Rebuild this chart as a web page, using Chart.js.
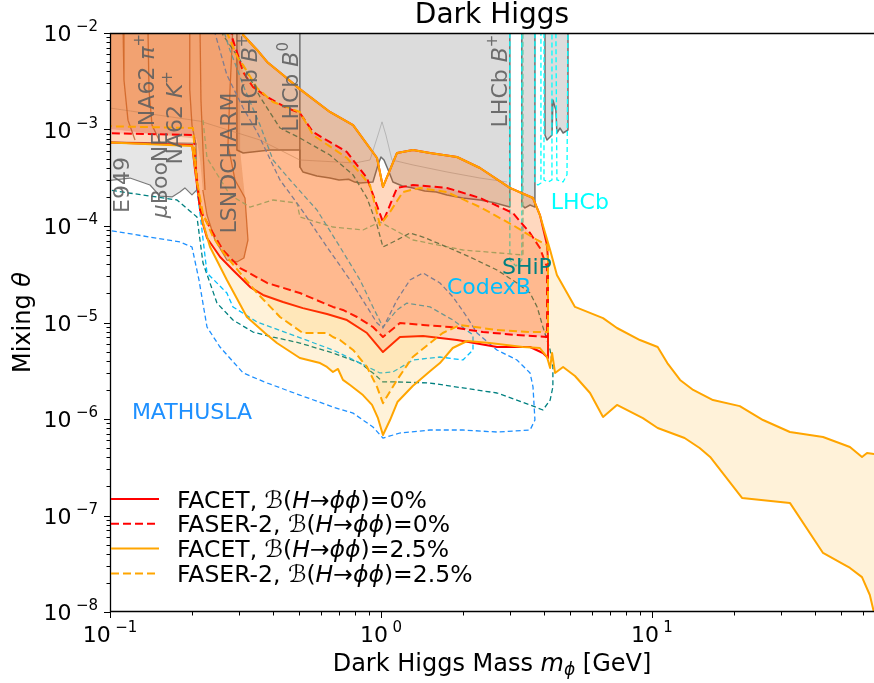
<!DOCTYPE html>
<html lang="en">
<head>
<meta charset="utf-8">
<title>Dark Higgs</title>
<script src="https://cdn.jsdelivr.net/npm/chart.js@4.4.1/dist/chart.umd.min.js"></script>
<style>
  html, body { margin: 0; padding: 0; background: #ffffff; overflow: hidden; }
  canvas { display: block; }
</style>
</head>
<body>
<canvas id="darkHiggsChart" width="874" height="683"></canvas>
<script>
/* =============================================================================
   DARK HIGGS — FACET / FASER-2 reach on a log-log plane
   ============================================================================= */

const FONT = "'DejaVu Sans', 'Liberation Sans', sans-serif";

/* ---- axes ---- */
const xRange = [0.1, 66];
const yRange = [1e-8, 1e-2];
const xTickValues = [0.1, 1, 10];
const xTickExps   = ['\u22121', '0', '1'];
const yTickValues = [1e-2, 1e-3, 1e-4, 1e-5, 1e-6, 1e-7, 1e-8];
const yTickExps   = ['\u22122', '\u22123', '\u22124', '\u22125', '\u22126', '\u22127', '\u22128'];

/* ---- FACET upper edge (shared by both branchings), [mass GeV, theta] ---- */
const facetUpper = [
  [0.30, 1.5e-2], [0.310, 9.53e-3], [0.349, 6.67e-3], [0.380, 5.01e-3], [0.435, 3.67e-3],
  [0.502, 2.62e-3], [0.648, 1.52e-3], [0.789, 1.11e-3], [0.967, 5.07e-4], [1.017, 2.54e-4],
  [1.146, 5.71e-4], [1.313, 6.13e-4], [1.517, 5.71e-4], [1.908, 5.19e-4], [2.32, 3.99e-4],
  [2.99, 2.48e-4], [3.64, 1.95e-4], [3.86, 1.30e-4]
];
const facet25Tail = [
  [4.21, 5.64e-5], [4.46, 3.11e-5], [5.20, 1.45e-5], [6.60, 1.11e-5], [7.43, 8.77e-6],
  [9.03, 6.58e-6], [10.5, 5.57e-6], [11.4, 3.80e-6], [12.7, 2.54e-6], [14.2, 2.00e-6],
  [16.8, 1.57e-6], [21.1, 1.36e-6], [25.7, 9.76e-7], [32.3, 7.33e-7], [42.8, 6.51e-7],
  [53.8, 5.13e-7], [59.6, 4.04e-7], [62.2, 4.44e-7], [66.0, 4.34e-7], [70, 4.3e-7]
];
const facet25Lower = [
  [70, 8e-9], [66.5, 9e-9], [63.7, 1.50e-8], [59.6, 2.30e-8], [53.8, 2.86e-8], [42.8, 4.09e-8],
  [32.3, 1.35e-7], [21.5, 1.52e-7], [16.4, 4.04e-7], [15.0, 5.01e-7], [13.2, 6.35e-7],
  [10.5, 8.06e-7], [9.26, 1.02e-6], [7.43, 1.40e-6], [6.60, 1.05e-6], [5.91, 1.86e-6],
  [5.20, 2.79e-6], [4.70, 3.46e-6], [4.39, 3.00e-6], [4.28, 4.83e-6], [4.21, 3.38e-6],
  [4.10, 4.39e-6], [3.86, 5.44e-6], [3.34, 5.57e-6], [2.52, 6.13e-6], [2.08, 6.43e-6],
  [1.84, 5.44e-6], [1.65, 3.80e-6], [1.52, 3.14e-6], [1.31, 2.20e-6], [1.15, 1.50e-6],
  [1.08, 9.76e-7], [1.017, 6.83e-7], [0.975, 1.02e-6], [0.927, 1.40e-6], [0.858, 1.77e-6],
  [0.769, 2.25e-6], [0.724, 2.54e-6], [0.694, 3.30e-6], [0.665, 3.07e-6], [0.632, 3.46e-6],
  [0.596, 3.80e-6], [0.502, 4.29e-6], [0.413, 6.13e-6], [0.373, 7.78e-6], [0.320, 1.14e-5],
  [0.270, 2.76e-5], [0.234, 6.06e-5], [0.220, 1.10e-4], [0.215, 1.65e-4], [0.208, 3.38e-4],
  [0.201, 6.75e-4], [0.09, 7.42e-4]
];
const facet0Lower = [
  [4.10, 6.35e-5], [4.135, 4.44e-5], [4.135, 4.29e-6], [3.96, 4.83e-6], [3.55, 5.57e-6],
  [2.68, 5.57e-6], [1.91, 6.58e-6], [1.43, 7.24e-6], [1.175, 7.07e-6], [1.017, 4.94e-6],
  [0.888, 7.78e-6], [0.749, 1.06e-5], [0.632, 1.225e-5], [0.515, 1.41e-5], [0.435, 1.63e-5],
  [0.367, 1.93e-5], [0.329, 2.33e-5], [0.284, 3.50e-5], [0.255, 4.77e-5], [0.228, 7.51e-5],
  [0.220, 1.07e-4], [0.213, 1.86e-4], [0.206, 3.80e-4], [0.201, 6.91e-4], [0.09, 7.42e-4]
];

/* ---- FASER-2 contours ---- */
const faser25Contour = [
  [0.09, 1.5e-2], [0.27, 1.5e-2], [0.2725, 9.53e-3], [0.2965, 5.51e-3], [0.310, 4.66e-3],
  [0.349, 2.69e-3], [0.3995, 1.93e-3], [0.502, 1.52e-3], [0.561, 8.77e-4], [0.749, 5.07e-4],
  [0.911, 2.66e-4], [0.9915, 1.02e-4], [1.08, 1.40e-4], [1.205, 2.25e-4], [1.393, 2.48e-4],
  [1.752, 2.25e-4], [2.32, 1.57e-4], [3.07, 1.02e-4], [3.77, 7.16e-5], [4.10, 6.35e-5],
  [4.135, 5.64e-5], [4.135, 7.97e-6], [3.55, 7.97e-6], [2.68, 8.36e-6], [1.96, 9.42e-6],
  [1.69, 7.78e-6], [1.31, 4.39e-6], [1.146, 2.54e-6], [1.017, 1.46e-6], [0.967, 2.15e-6],
  [0.888, 3.46e-6], [0.789, 5.19e-6], [0.706, 6.58e-6], [0.665, 7.07e-6], [0.632, 7.78e-6],
  [0.515, 7.78e-6], [0.424, 1.14e-5], [0.349, 2.02e-5], [0.302, 3.26e-5], [0.261, 5.38e-5],
  [0.240, 7.69e-5], [0.220, 1.36e-4], [0.209, 3.00e-4], [0.2025, 1.036e-3], [0.09, 1.087e-3]
];
const faser0Contour = [
  [0.09, 1.5e-2], [0.28, 1.5e-2], [0.282, 9.09e-3], [0.294, 6.35e-3], [0.310, 3.94e-3],
  [0.337, 2.76e-3], [0.380, 2.17e-3], [0.450, 1.67e-3], [0.502, 1.48e-3], [0.561, 9.42e-4],
  [0.749, 5.84e-4], [0.888, 3.14e-4], [1.017, 1.10e-4], [1.146, 2.48e-4], [1.313, 2.66e-4],
  [1.752, 2.48e-4], [2.32, 1.95e-4], [3.07, 1.36e-4], [3.55, 8.46e-5], [3.86, 5.92e-5],
  [4.10, 3.76e-5], [4.10, 7.07e-6], [3.175, 7.42e-6], [2.38, 7.97e-6], [1.80, 8.98e-6],
  [1.43, 9.42e-6], [1.175, 9.88e-6], [1.017, 7.07e-6], [0.934, 8.98e-6], [0.816, 1.14e-5],
  [0.724, 1.35e-5], [0.665, 1.45e-5], [0.502, 2.02e-5], [0.380, 2.57e-5], [0.302, 3.67e-5],
  [0.261, 5.64e-5], [0.234, 9.53e-5], [0.215, 1.46e-4], [0.208, 3.80e-4], [0.204, 8.77e-4],
  [0.09, 9.20e-4]
];

/* ---- existing constraints ---- */
const greyMain = [
  [0.294, 1.2e-2], [2.99, 1.2e-2], [2.99, 1.57e-4], [2.6, 1.75e-4], [2.32, 1.86e-4],
  [2.0, 1.95e-4], [1.752, 2.10e-4], [1.6, 2.25e-4], [1.45, 2.3e-4], [1.313, 2.48e-4],
  [1.2, 2.6e-4], [1.107, 2.86e-4], [1.071, 3.63e-4], [1.026, 4.83e-4], [1.0, 5.19e-4],
  [0.975, 4.29e-4], [0.934, 2.86e-4], [0.837, 2.79e-4], [0.80, 2.85e-4], [0.76, 3.05e-4],
  [0.70, 3.0e-4], [0.648, 3.14e-4], [0.58, 3.3e-4], [0.515, 3.63e-4], [0.502, 4.09e-4],
  [0.502, 6.13e-4], [0.3895, 6.13e-4], [0.310, 5.71e-4], [0.294, 6.13e-4], [0.294, 1.2e-2]
];
const greyDivider = [[0.502, 1.2e-2], [0.502, 4.09e-4]];
const greyStripA = [
  [3.31, 1.2e-2], [3.70, 1.2e-2], [3.70, 1.57e-4], [3.55, 1.65e-4], [3.40, 1.54e-4],
  [3.31, 1.65e-4], [3.31, 1.2e-2]
];
const greyStripB = [
  [4.03, 1.2e-2], [4.90, 1.2e-2], [4.90, 9.88e-4], [4.70, 9.20e-4], [4.58, 1.036e-3],
  [4.46, 9.20e-4], [4.42, 1.59e-3], [4.31, 2.02e-3], [4.28, 8.77e-4], [4.10, 7.78e-4],
  [4.03, 8.77e-4], [4.03, 1.2e-2]
];
const greyLeft = [
  [0.09, 7.42e-4], [0.2076, 7.2e-4], [0.209, 2.36e-4], [0.2007, 2.10e-4], [0.189, 2.48e-4],
  [0.181, 2.25e-4], [0.1694, 2.00e-4], [0.153, 2.04e-4], [0.1405, 2.66e-4], [0.1185, 3.14e-4],
  [0.09, 2.86e-4]
];
const beamDumpRegion = [
  [0.09, 1.2e-2], [0.302, 1.2e-2], [0.302, 6.13e-4], [0.315, 1.95e-4], [0.323, 7.16e-5],
  [0.312, 4.66e-5], [0.294, 4.24e-5], [0.270, 4.44e-5], [0.244, 7.16e-5], [0.228, 1.30e-4],
  [0.220, 2.36e-4], [0.215, 4.83e-4], [0.209, 8.0e-4], [0.09, 1.05e-3]
];
const dumpEdge1 = [[0.1117, 1.2e-2], [0.1126, 3.26e-3], [0.1165, 1.25e-3], [0.1237, 7.78e-4]];
const dumpEdge2 = [[0.138, 1.2e-2], [0.1393, 2.57e-3], [0.1429, 1.11e-3], [0.153, 7.42e-4]];
const dumpEdge3 = [[0.197, 1.2e-2], [0.197, 2.57e-3], [0.2007, 1.11e-3], [0.2076, 6.91e-4]];
const dumpEdge4 = [[0.2148, 1.2e-2], [0.2166, 2.02e-3], [0.2204, 6.13e-4], [0.2242, 2.36e-4]];
const lsndEdge = [
  [0.2844, 1.2e-2], [0.2772, 2.57e-3], [0.2725, 6.91e-4], [0.2893, 3.00e-4], [0.315, 1.95e-4],
  [0.323, 7.16e-5], [0.312, 4.66e-5], [0.294, 4.24e-5], [0.270, 4.44e-5], [0.244, 7.16e-5],
  [0.228, 1.30e-4], [0.220, 2.36e-4]
];
const lhcbFaint = [
  [0.1, 1.67e-3], [0.2148, 1.22e-3], [0.358, 7.78e-4], [0.502, 4.83e-4], [0.802, 4.50e-4],
  [0.911, 4.83e-4], [0.975, 8.77e-4], [1.009, 1.20e-3], [1.043, 8.77e-4], [1.098, 4.83e-4],
  [1.313, 4.29e-4], [1.752, 3.63e-4], [2.32, 3.14e-4], [2.917, 2.86e-4]
];

/* ---- projected sensitivities of other experiments ---- */
const mathusla = [
  [0.095, 9.2e-5], [0.181, 6.83e-5], [0.2007, 6.06e-5], [0.213, 2.76e-5], [0.228, 8.98e-6],
  [0.2546, 5.57e-6], [0.310, 3.00e-6], [0.380, 2.36e-6], [0.502, 1.77e-6], [0.665, 1.33e-6],
  [0.789, 1.15e-6], [0.934, 8.26e-7], [1.017, 6.35e-7], [1.175, 7.16e-7], [1.517, 7.69e-7],
  [2.007, 7.69e-7], [2.679, 7.33e-7], [3.55, 7.69e-7], [3.70, 9.76e-7], [3.64, 2.15e-6],
  [3.55, 3.00e-6], [3.175, 4.09e-6], [2.679, 5.19e-6], [2.262, 7.78e-6], [2.077, 1.14e-5],
  [1.844, 1.84e-5], [1.651, 2.57e-5], [1.429, 3.26e-5], [1.279, 2.76e-5], [1.146, 1.71e-5],
  [1.017, 8.77e-6], [0.967, 9.88e-6], [0.888, 1.45e-5], [0.769, 2.76e-5], [0.632, 6.06e-5],
  [0.502, 1.57e-4], [0.424, 3.00e-4], [0.349, 9.42e-4], [0.310, 1.67e-3], [0.270, 3.67e-3],
  [0.244, 1.0e-2], [0.240, 1.2e-2]
];
const codexb = [
  [0.206, 7.78e-4], [0.2094, 2.36e-4], [0.2148, 1.36e-4], [0.228, 3.26e-5], [0.270, 2.02e-5],
  [0.2844, 1.45e-5], [0.349, 1.01e-5], [0.450, 7.78e-6], [0.665, 5.19e-6], [0.837, 3.80e-6],
  [0.9915, 3.00e-6], [1.107, 3.07e-6], [1.313, 4.09e-6], [1.651, 4.39e-6], [2.007, 4.09e-6],
  [2.186, 5.19e-6], [2.186, 7.42e-6], [1.844, 1.06e-5], [1.517, 1.45e-5], [1.247, 1.59e-5],
  [1.146, 1.35e-5], [1.017, 8.98e-6], [0.934, 1.45e-5], [0.837, 2.76e-5], [0.706, 6.06e-5],
  [0.581, 1.46e-4], [0.462, 3.00e-4], [0.3995, 4.83e-4], [0.358, 1.11e-3], [0.315, 2.57e-3],
  [0.277, 6.67e-3], [0.259, 1.2e-2]
];
const ship = [
  [0.095, 2.4e-4], [0.1767, 1.86e-4], [0.2094, 1.24e-4], [0.2204, 4.14e-5], [0.2482, 1.59e-5],
  [0.2844, 1.06e-5], [0.3372, 7.97e-6], [0.3995, 7.07e-6], [0.502, 6.13e-6], [0.665, 4.83e-6],
  [0.837, 3.80e-6], [0.934, 3.00e-6], [1.017, 2.42e-6], [1.146, 2.42e-6], [1.517, 2.36e-6],
  [2.007, 2.10e-6], [2.679, 1.86e-6], [3.55, 1.40e-6], [3.96, 1.24e-6], [4.21, 1.57e-6],
  [4.31, 2.15e-6], [4.31, 3.46e-6], [4.21, 5.19e-6], [3.96, 8.98e-6], [3.77, 1.45e-5],
  [3.55, 2.02e-5], [3.175, 2.57e-5], [2.679, 3.50e-5], [2.131, 4.77e-5], [1.752, 6.06e-5],
  [1.429, 7.69e-5], [1.279, 8.46e-5], [1.146, 7.16e-5], [1.017, 6.06e-5], [0.967, 1.02e-4],
  [0.888, 1.95e-4], [0.789, 3.38e-4], [0.648, 5.44e-4], [0.502, 8.16e-4], [0.424, 1.036e-3],
  [0.358, 2.17e-3], [0.302, 5.25e-3], [0.2612, 9.53e-3], [0.257, 1.2e-2]
];
const seaquest = [
  [0.2204, 1.25e-3], [0.228, 5.07e-4], [0.2772, 2.10e-4], [0.3287, 1.57e-4], [0.3995, 1.86e-4],
  [0.4898, 1.73e-4], [0.5024, 1.24e-4], [0.665, 9.76e-5], [0.858, 9.09e-5], [0.9915, 1.10e-4],
  [1.313, 7.16e-5], [2.007, 5.64e-5], [3.342, 5.01e-5], [3.342, 1.2e-2]
];
const lhcbProj1 = [[2.99, 1.2e-2], [2.99, 4.44e-5], [3.149, 3.85e-5], [3.31, 4.44e-5], [3.31, 1.2e-2]];
const lhcbProj2 = [[3.70, 1.2e-2], [3.70, 2.79e-4], [3.796, 2.66e-4], [3.894, 2.79e-4], [3.894, 1.2e-2]];
const lhcbProj3 = [[3.996, 1.2e-2], [3.996, 3.00e-4], [4.135, 2.86e-4], [4.276, 3.00e-4], [4.276, 1.2e-2]];
const lhcbProj4 = [[4.42, 1.2e-2], [4.46, 3.00e-4], [4.70, 2.86e-4], [4.859, 3.4e-4], [4.90, 1.2e-2]];

/* ---- text ---- */
const regionLabelText = [
  [['E949']],
  [['\u03bc', 'i'], ['BooNE']],
  [['NA62 '], ['\u03c0', 'i'], ['+', 'sup']],
  [['NA62 '], ['K', 'i'], ['+', 'sup']],
  [['LSNDCHARM']],
  [['LHCb '], ['B', 'i'], ['+', 'sup']],
  [['LHCb '], ['B', 'i'], ['0', 'sup']],
  [['LHCb '], ['B', 'i'], ['+', 'sup']]
];
const regionLabelAt = [
  [0.1098, 2.66e-4], [0.1516, 3.38e-4], [0.1358, 3.26e-3], [0.1722, 1.32e-3],
  [0.2725, 4.50e-4], [0.3258, 3.18e-3], [0.4617, 2.76e-3], [2.725, 3.18e-3]
];
const projLabelText  = ['LHCb', 'SHiP', 'CodexB', 'MATHUSLA'];
const projLabelAt    = [[5.42, 1.82e-4], [3.456, 3.85e-5], [2.503, 2.39e-5], [0.2007, 1.21e-6]];
const projLabelColor = ['#00ffff', '#008080', '#00bfff', '#1e90ff'];

const legendNames = ['FACET', 'FASER-2', 'FACET', 'FASER-2'];
const legendBR    = ['0%', '0%', '2.5%', '2.5%'];

/* =============================================================================
   DATASETS
   ============================================================================= */

const RED = '#ff0000', ORANGE = '#ffa500';
const DASH_MAIN = [8, 4], DASH_PROJ = [5, 3];

const pts = arr => arr.map(([x, y]) => ({ x, y }));

function region(data, fillColor, lineColor, width, order, dash) {
  return {
    data: pts(data), fill: 'shape', backgroundColor: fillColor,
    borderColor: lineColor, borderWidth: width, borderDash: dash || [], order
  };
}

function curve(data, color, width, order, dash) {
  return {
    data: pts(data), fill: false, backgroundColor: color,
    borderColor: color, borderWidth: width, borderDash: dash || [], order
  };
}

const facet25Contour = [[0.09, 1.5e-2], ...facetUpper, ...facet25Tail, ...facet25Lower];
const facet0Contour  = [[0.09, 1.5e-2], ...facetUpper, ...facet0Lower];

const SIENNA_LINE = 'rgba(160,82,45,0.75)';

const datasets = [
  region(greyMain,   '#dcdcdc', '#6f6f6f', 1.5, 100),
  region(greyStripA, '#dcdcdc', '#6f6f6f', 1.5, 100),
  region(greyStripB, '#dcdcdc', '#6f6f6f', 1.5, 100),
  curve(greyDivider, '#6f6f6f', 1.5, 99),
  region(greyLeft,   '#e6e6e6', '#7a7a7a', 1.2, 100),
  region(beamDumpRegion, 'rgba(160,82,45,0.25)', 'rgba(0,0,0,0)', 0, 98),
  curve(lhcbFaint, 'rgba(150,150,150,0.55)', 1, 97),
  curve(dumpEdge1, SIENNA_LINE, 1.3, 96),
  curve(dumpEdge2, SIENNA_LINE, 1.3, 96),
  curve(dumpEdge3, SIENNA_LINE, 1.3, 96),
  curve(dumpEdge4, SIENNA_LINE, 1.3, 96),
  curve(lsndEdge,  SIENNA_LINE, 1.3, 96),

  curve(mathusla,  '#1e90ff', 1.3, 90, DASH_PROJ),
  curve(codexb,    '#00bfff', 1.3, 90, DASH_PROJ),
  curve(ship,      '#008080', 1.3, 90, DASH_PROJ),
  curve(seaquest,  '#66cdaa', 1.3, 90, DASH_PROJ),
  curve(lhcbProj1, '#00ffff', 1.3, 90, DASH_PROJ),
  curve(lhcbProj2, '#00ffff', 1.3, 90, DASH_PROJ),
  curve(lhcbProj3, '#00ffff', 1.3, 90, DASH_PROJ),
  curve(lhcbProj4, '#00ffff', 1.3, 90, DASH_PROJ),

  region(facet0Contour,  'rgba(255,0,0,0.12)',   RED,    2, 40),
  region(facet25Contour, 'rgba(255,165,0,0.15)', ORANGE, 2, 35),
  region(faser0Contour,  'rgba(255,0,0,0.12)',   RED,    2, 30, DASH_MAIN),
  region(faser25Contour, 'rgba(255,165,0,0.15)', ORANGE, 2, 25, DASH_MAIN)
];

/* =============================================================================
   TEXT HELPERS
   ============================================================================= */

function runFont(style, size) {
  if (style === 'i') return `italic ${size}px ${FONT}`;
  if (style === 'sup' || style === 'sub') return `${Math.round(size * 0.7)}px ${FONT}`;
  if (style === 'isub') return `italic ${Math.round(size * 0.7)}px ${FONT}`;
  return `${size}px ${FONT}`;
}

function runsWidth(ctx, runs, size) {
  return runs.reduce((w, [t, s]) => { ctx.font = runFont(s, size); return w + ctx.measureText(t).width; }, 0);
}

function drawRuns(ctx, runs, x, baseline, size) {
  runs.forEach(([t, s]) => {
    ctx.font = runFont(s, size);
    let yy = baseline;
    if (s === 'sup') yy = baseline - size * 0.45;
    if (s === 'sub' || s === 'isub') yy = baseline + size * 0.2;
    ctx.fillText(t, x, yy);
    x += ctx.measureText(t).width;
  });
}

function drawLabel(ctx, runs, cx, cy, size, color, rotate) {
  ctx.save();
  ctx.fillStyle = color;
  ctx.textAlign = 'left';
  ctx.textBaseline = 'alphabetic';
  ctx.translate(cx, cy);
  if (rotate) ctx.rotate(-Math.PI / 2);
  const w = runsWidth(ctx, runs, size);
  drawRuns(ctx, runs, -w / 2, size * 0.36, size);
  ctx.restore();
}

/* =============================================================================
   PLUGINS
   ============================================================================= */

const labelPlugin = {
  id: 'regionLabels',
  afterDatasetsDraw(chart) {
    const { ctx, scales: { x, y } } = chart;
    regionLabelText.forEach((runs, i) => {
      const [vx, vy] = regionLabelAt[i];
      drawLabel(ctx, runs, x.getPixelForValue(vx), y.getPixelForValue(vy), 22, 'rgba(95,95,95,0.9)', true);
    });
    projLabelText.forEach((t, i) => {
      const [vx, vy] = projLabelAt[i];
      drawLabel(ctx, [[t]], x.getPixelForValue(vx), y.getPixelForValue(vy), 22, projLabelColor[i], false);
    });
  }
};

const axesPlugin = {
  id: 'axesFrame',
  afterDraw(chart) {
    const { ctx, chartArea: a, scales: { x, y } } = chart;
    ctx.save();

    /* spines */
    ctx.strokeStyle = '#000';
    ctx.lineWidth = 1.3;
    ctx.beginPath();
    ctx.moveTo(a.right, a.top + 0.5);
    ctx.lineTo(a.left + 0.5, a.top + 0.5);
    ctx.lineTo(a.left + 0.5, a.bottom - 0.5);
    ctx.lineTo(a.right, a.bottom - 0.5);
    ctx.stroke();

    /* major + minor ticks */
    ctx.lineWidth = 1;
    ctx.beginPath();
    for (let e = -8; e <= -2; e++) {
      for (let m = 1; m < 10; m++) {
        const v = m * Math.pow(10, e);
        if (v > yRange[1] * 1.001) continue;
        const py = Math.round(y.getPixelForValue(v)) + 0.5;
        ctx.moveTo(a.left, py);
        ctx.lineTo(a.left - (m === 1 ? 6 : 3.5), py);
      }
    }
    for (let e = -1; e <= 1; e++) {
      for (let m = 1; m < 10; m++) {
        const v = m * Math.pow(10, e);
        if (v > xRange[1]) continue;
        const px = Math.round(x.getPixelForValue(v)) + 0.5;
        ctx.moveTo(px, a.bottom);
        ctx.lineTo(px, a.bottom + (m === 1 ? 6 : 3.5));
      }
    }
    ctx.stroke();

    /* tick labels */
    ctx.fillStyle = '#000';
    ctx.textAlign = 'left';
    ctx.textBaseline = 'alphabetic';
    yTickValues.forEach((v, i) => {
      const runs = [['10'], ['\u2009'], [yTickExps[i], 'sup']];
      const w = runsWidth(ctx, runs, 22);
      drawRuns(ctx, runs, a.left - 12 - w, y.getPixelForValue(v) + 8, 22);
    });
    xTickValues.forEach((v, i) => {
      const runs = [['10'], ['\u2009'], [xTickExps[i], 'sup']];
      const w = runsWidth(ctx, runs, 22);
      drawRuns(ctx, runs, x.getPixelForValue(v) - w / 2, a.bottom + 30, 22);
    });

    /* title and axis titles */
    drawLabel(ctx, [['Dark Higgs']], (a.left + a.right) / 2, 13, 28, '#000', false);
    drawLabel(ctx, [['Dark Higgs Mass '], ['m', 'i'], ['\u03d5', 'isub'], [' [GeV]']],
      (a.left + a.right) / 2, a.bottom + 50, 24, '#000', false);
    drawLabel(ctx, [['Mixing '], ['\u03b8', 'i']], 21, (a.top + a.bottom) / 2, 24, '#000', true);

    /* legend */
    const legendColors = [RED, RED, ORANGE, ORANGE];
    const legendDashes = [[], DASH_MAIN, [], DASH_MAIN];
    legendNames.forEach((name, i) => {
      const ly = a.bottom - 113 + i * 24.8;
      ctx.strokeStyle = legendColors[i];
      ctx.lineWidth = 2;
      ctx.setLineDash(legendDashes[i]);
      ctx.beginPath();
      ctx.moveTo(a.left + 1, ly);
      ctx.lineTo(a.left + 49, ly);
      ctx.stroke();
      ctx.setLineDash([]);
      ctx.fillStyle = '#000';
      drawRuns(ctx, [[name + ', '], ['\u212c'], ['('], ['H', 'i'], ['\u2192'], ['\u03d5\u03d5', 'i'], [')=' + legendBR[i]]],
        a.left + 67, ly + 8.5, 23.5);
    });

    ctx.restore();
  }
};

/* =============================================================================
   BOOT
   ============================================================================= */

new Chart(document.getElementById('darkHiggsChart'), {
  type: 'line',
  data: { datasets },
  options: {
    responsive: false,
    animation: false,
    events: [],
    layout: { padding: { left: 110, right: 0, top: 33, bottom: 71 } },
    elements: {
      point: { radius: 0, hitRadius: 0, hoverRadius: 0 },
      line: { tension: 0, borderJoinStyle: 'round' }
    },
    datasets: { line: { clip: 0 } },
    plugins: { legend: { display: false }, tooltip: { enabled: false } },
    scales: {
      x: { type: 'logarithmic', min: xRange[0], max: xRange[1], display: false },
      y: { type: 'logarithmic', min: yRange[0], max: yRange[1], display: false }
    }
  },
  plugins: [labelPlugin, axesPlugin]
});
</script>
</body>
</html>
